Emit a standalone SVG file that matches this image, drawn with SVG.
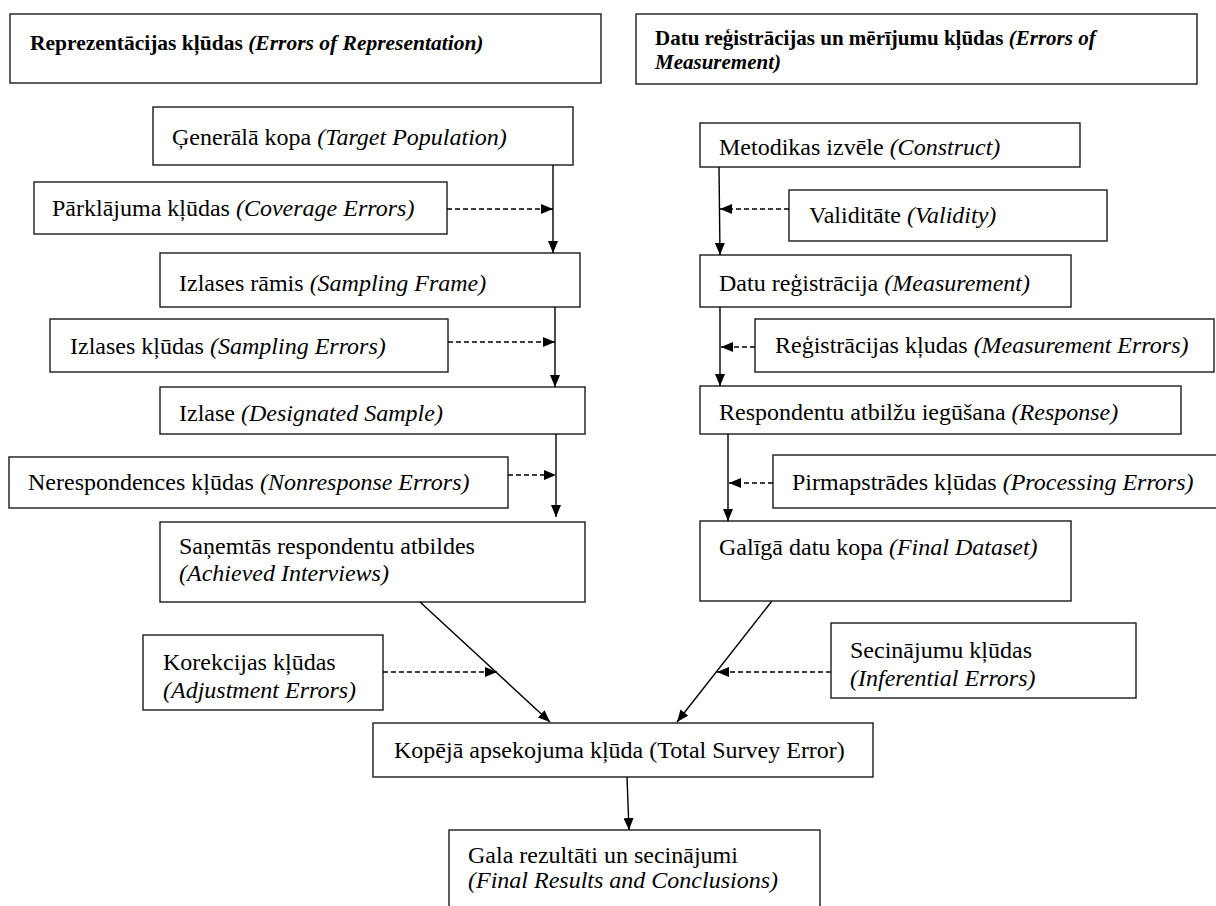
<svg xmlns="http://www.w3.org/2000/svg" width="1216" height="906" viewBox="0 0 1216 906">
  <style>
    .box { fill: #fff; stroke: #1a1a1a; stroke-width: 1.4; }
    .t { font-family: "Liberation Serif", "Times New Roman", serif; font-size: 24px; fill: #000; }
    .i { font-style: italic; }
    .hl { font-family: "Liberation Serif", "Times New Roman", serif; font-size: 21.5px; font-weight: bold; fill: #000; }
    .hr { font-family: "Liberation Serif", "Times New Roman", serif; font-size: 21px; font-weight: bold; fill: #000; }
    .flow { stroke: #000; stroke-width: 1.4; fill: none; }
    .err { stroke: #000; stroke-width: 1.4; fill: none; stroke-dasharray: 5 3; }
  </style>
  <defs>
    <marker id="head" viewBox="0 0 12 10" refX="12" refY="5" markerWidth="12" markerHeight="10" markerUnits="userSpaceOnUse" orient="auto">
      <path d="M0,0 L12,5 L0,10 Z" fill="#000"/>
    </marker>
  </defs>

  <rect width="1216" height="906" fill="#fff"/>

  <!-- column headers -->
  <g id="hdr-representation">
    <rect class="box" x="10" y="14" width="591" height="69"/>
    <text class="hl" x="30" y="50">Reprezentācijas kļūdas <tspan class="i">(Errors of Representation)</tspan></text>
  </g>
  <g id="hdr-measurement">
    <rect class="box" x="636" y="14" width="561" height="70"/>
    <text class="hr" x="655" y="45">Datu reģistrācijas un mērījumu kļūdas <tspan class="i">(Errors of</tspan></text>
    <text class="hr i" x="655" y="69">Measurement)</text>
  </g>

  <!-- representation side -->
  <g id="target-population">
    <rect class="box" x="153" y="107" width="420" height="58"/>
    <text class="t" x="172" y="145">Ģenerālā kopa <tspan class="i">(Target Population)</tspan></text>
  </g>
  <g id="coverage-errors">
    <rect class="box" x="34" y="182" width="413" height="52"/>
    <text class="t" x="52" y="216">Pārklājuma kļūdas <tspan class="i">(Coverage Errors)</tspan></text>
  </g>
  <g id="sampling-frame">
    <rect class="box" x="160" y="253" width="420" height="54"/>
    <text class="t" x="179" y="291">Izlases rāmis <tspan class="i">(Sampling Frame)</tspan></text>
  </g>
  <g id="sampling-errors">
    <rect class="box" x="50" y="319" width="398" height="53"/>
    <text class="t" x="70" y="354">Izlases kļūdas <tspan class="i">(Sampling Errors)</tspan></text>
  </g>
  <g id="designated-sample">
    <rect class="box" x="160" y="387" width="425" height="47"/>
    <text class="t" x="179" y="421">Izlase <tspan class="i">(Designated Sample)</tspan></text>
  </g>
  <g id="nonresponse-errors">
    <rect class="box" x="9" y="457" width="499" height="51"/>
    <text class="t" x="28" y="490">Nerespondences kļūdas <tspan class="i">(Nonresponse Errors)</tspan></text>
  </g>
  <g id="achieved-interviews">
    <rect class="box" x="160" y="522" width="425" height="80"/>
    <text class="t" x="179" y="554">Saņemtās respondentu atbildes</text>
    <text class="t i" x="179" y="581">(Achieved Interviews)</text>
  </g>
  <g id="adjustment-errors">
    <rect class="box" x="143" y="635" width="240" height="75"/>
    <text class="t" x="163" y="670">Korekcijas kļūdas</text>
    <text class="t i" x="163" y="698">(Adjustment Errors)</text>
  </g>

  <!-- measurement side -->
  <g id="construct">
    <rect class="box" x="700" y="123" width="380" height="44"/>
    <text class="t" x="719" y="155">Metodikas izvēle <tspan class="i">(Construct)</tspan></text>
  </g>
  <g id="validity">
    <rect class="box" x="789" y="190" width="318" height="51"/>
    <text class="t" x="809" y="223">Validitāte <tspan class="i">(Validity)</tspan></text>
  </g>
  <g id="measurement">
    <rect class="box" x="700" y="255" width="371" height="52"/>
    <text class="t" x="719" y="291">Datu reģistrācija <tspan class="i">(Measurement)</tspan></text>
  </g>
  <g id="measurement-errors">
    <rect class="box" x="755" y="319" width="459" height="53"/>
    <text class="t" x="775" y="353">Reģistrācijas kļudas <tspan class="i">(Measurement Errors)</tspan></text>
  </g>
  <g id="response">
    <rect class="box" x="700" y="386" width="481" height="48"/>
    <text class="t" x="719" y="420">Respondentu atbilžu iegūšana <tspan class="i">(Response)</tspan></text>
  </g>
  <g id="processing-errors">
    <rect class="box" x="773" y="455" width="460" height="53"/>
    <text class="t" x="792" y="490">Pirmapstrādes kļūdas <tspan class="i">(Processing Errors)</tspan></text>
  </g>
  <g id="final-dataset">
    <rect class="box" x="700" y="521" width="371" height="80"/>
    <text class="t" x="719" y="555">Galīgā datu kopa <tspan class="i">(Final Dataset)</tspan></text>
  </g>
  <g id="inferential-errors">
    <rect class="box" x="831" y="623" width="305" height="75"/>
    <text class="t" x="850" y="658">Secinājumu kļūdas</text>
    <text class="t i" x="850" y="686">(Inferential Errors)</text>
  </g>

  <!-- results -->
  <g id="total-survey-error">
    <rect class="box" x="373" y="723" width="500" height="54"/>
    <text class="t" x="394" y="758">Kopējā apsekojuma kļūda (Total Survey Error)</text>
  </g>
  <g id="final-results">
    <rect class="box" x="449" y="830" width="371" height="90"/>
    <text class="t" x="468" y="863">Gala rezultāti un secinājumi</text>
    <text class="t i" x="468" y="888">(Final Results and Conclusions)</text>
  </g>

  <!-- connectors -->
  <g id="connectors">
    <line class="flow" x1="553" y1="165" x2="553" y2="253" marker-end="url(#head)"/>
    <line class="err" x1="447" y1="209" x2="553" y2="209" marker-end="url(#head)"/>
    <line class="flow" x1="555" y1="307" x2="555" y2="387" marker-end="url(#head)"/>
    <line class="err" x1="448" y1="342" x2="555" y2="342" marker-end="url(#head)"/>
    <line class="flow" x1="556" y1="434" x2="556" y2="517" marker-end="url(#head)"/>
    <line class="err" x1="508" y1="475" x2="556" y2="475" marker-end="url(#head)"/>

    <line class="flow" x1="719" y1="167" x2="720" y2="255" marker-end="url(#head)"/>
    <line class="err" x1="789" y1="209" x2="720" y2="209" marker-end="url(#head)"/>
    <line class="flow" x1="720" y1="307" x2="720" y2="386" marker-end="url(#head)"/>
    <line class="err" x1="755" y1="347" x2="721" y2="347" marker-end="url(#head)"/>
    <line class="flow" x1="728" y1="434" x2="728" y2="521" marker-end="url(#head)"/>
    <line class="err" x1="773" y1="483" x2="729" y2="483" marker-end="url(#head)"/>

    <line class="flow" x1="420" y1="602" x2="550" y2="722" marker-end="url(#head)"/>
    <line class="err" x1="383" y1="672" x2="497" y2="672" marker-end="url(#head)"/>
    <line class="flow" x1="772" y1="601" x2="677" y2="722" marker-end="url(#head)"/>
    <line class="err" x1="831" y1="672" x2="717" y2="672" marker-end="url(#head)"/>

    <line class="flow" x1="627" y1="777" x2="629" y2="830" marker-end="url(#head)"/>
  </g>
</svg>
